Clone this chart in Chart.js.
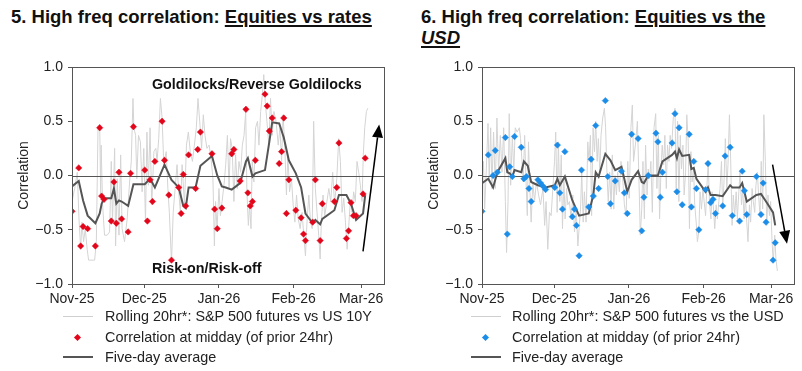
<!DOCTYPE html>
<html><head><meta charset="utf-8">
<script src="https://cdn.jsdelivr.net/npm/chart.js@4.4.1/dist/chart.umd.min.js"></script>
<style>
body{margin:0;width:802px;height:371px;background:#fff;position:relative;overflow:hidden;font-family:"Liberation Sans",Arial,sans-serif;color:#000}
.t{position:absolute;font-weight:bold;font-size:18.5px;line-height:21px;white-space:nowrap;color:#111}
.t u{text-decoration-thickness:2px;text-underline-offset:2px}
.cw{position:absolute;top:0}
.ann{position:absolute;font-weight:bold;font-size:14.3px;white-space:nowrap;color:#111}
.lg{position:absolute;top:306px;height:64px;font-size:14.4px;color:#222;white-space:nowrap}
.row{position:absolute;left:0;height:21px;width:400px}
.row .tx{position:absolute;top:0;line-height:21px}
.row .ln{position:absolute;top:10px;width:30px}
.row .dm{position:absolute;top:8px;width:5px;height:5px;transform:rotate(45deg)}
</style></head>
<body>
<div class="t" style="left:11px;top:6px">5. High freq correlation: <u>Equities vs rates</u></div>
<div class="t" style="left:421px;top:6px">6. High freq correlation: <u>Equities vs the<br><i>USD</i></u></div>

<div class="cw" style="left:0;width:401px;height:310px"><canvas id="c1" width="401" height="310"></canvas></div>
<div class="cw" style="left:410px;width:392px;height:310px"><canvas id="c2" width="392" height="310"></canvas></div>

<div class="ann" style="left:152px;top:76px">Goldilocks/Reverse Goldilocks</div>
<div class="ann" style="left:152px;top:260px">Risk-on/Risk-off</div>

<div class="lg" style="left:0;width:401px">
  <div class="row" style="top:0"><span class="ln" style="left:63px;height:1px;background:#cfcfcf"></span><span class="tx" style="left:105px">Rolling 20hr*: S&amp;P 500 futures vs US 10Y</span></div>
  <div class="row" style="top:21px"><span class="dm" style="left:75px;background:#e3061b"></span><span class="tx" style="left:105px">Correlation at midday (of prior 24hr)</span></div>
  <div class="row" style="top:41px"><span class="ln" style="left:63px;height:2px;top:9px;background:#555"></span><span class="tx" style="left:105px">Five-day average</span></div>
</div>
<div class="lg" style="left:410px;width:392px">
  <div class="row" style="top:0"><span class="ln" style="left:61px;height:1px;background:#cfcfcf"></span><span class="tx" style="left:102px">Rolling 20hr*: S&amp;P 500 futures vs the USD</span></div>
  <div class="row" style="top:21px"><span class="dm" style="left:73px;background:#1b8de8"></span><span class="tx" style="left:102px">Correlation at midday (of prior 24hr)</span></div>
  <div class="row" style="top:41px"><span class="ln" style="left:61px;height:2px;top:9px;background:#555"></span><span class="tx" style="left:102px">Five-day average</span></div>
</div>

<script>
// x values are days since 1 Nov 2025
const tickDays = [0, 30, 61, 92, 120];
const tickLabels = ['Nov-25', 'Dec-25', 'Jan-26', 'Feb-26', 'Mar-26'];

// ---- Chart 5: Equities vs rates ----
const rollDaysL = [0.0,1.1,2.2,2.9,3.6,4.1,4.8,5.5,6.3,6.9,9.4,10.1,10.8,11.5,11.9,12.1,12.7,13.5,14.6,15.6,16.3,16.8,17.7,18.1,18.8,19.5,20.2,20.8,21.8,22.9,23.9,24.6,25.3,25.7,26.4,26.9,27.6,28.4,29.1,29.8,30.5,31.1,31.7,32.4,33.1,34.0,34.8,35.3,36.0,36.7,37.4,38.1,39.1,39.8,40.4,41.3,42.0,42.8,43.6,44.3,45.0,45.7,46.7,47.5,48.3,49.1,50.0,50.8,51.6,52.3,53.0,53.8,54.5,55.2,56.0,56.9,57.7,58.5,59.1,59.6,60.2,61.0,61.6,62.3,63.2,
  63.8,64.5,65.2,65.8,66.5,67.2,67.9,68.6,69.3,70.0,70.7,71.4,72.1,72.6,73.2,73.7,74.3,74.8,75.5,76.2,77.0,77.6,78.3,79.0,79.6,80.2,80.9,81.7,82.4,83.1,83.8,84.7,85.6,86.3,87.0,87.6,88.3,89.0,89.6,90.3,91.1,91.8,92.5,93.2,93.9,94.7,95.5,96.2,96.9,97.6,98.3,99.0,99.7,100.3,101.0,101.7,102.4,103.0,103.5,104.2,104.9,105.6,106.6,107.4,108.2,109.0,109.9,110.7,111.4,112.1,112.8,113.5,114.2,114.8,115.5,116.2,116.9,117.6,118.3,119.0,119.7,120.4,120.9,121.5,122.2,122.8];
const rollValsL = [-0.24,-0.12,0.03,-0.40,-0.68,-0.43,-0.61,-0.49,-0.68,-0.78,-0.78,-0.61,0.44,0.47,-0.18,0.28,-0.27,-0.55,-0.55,-0.52,0.13,-0.43,0.25,-0.65,-0.03,-0.55,0.19,-0.49,-0.61,-0.40,-0.06,0.13,0.71,0.44,0.37,-0.03,0.37,0.31,-0.15,0.25,-0.43,0.40,-0.09,0.44,-0.27,0.22,0.25,0.13,0.34,0.71,0.53,0.10,0.22,-0.12,-0.34,-0.80,-0.34,-0.12,0.10,-0.15,-0.34,0.10,-0.27,0.28,0.40,0.22,0.13,0.28,0.44,0.71,0.50,0.25,0.56,0.37,0.25,0.28,0.16,-0.03,-0.65,-0.24,-0.49,-0.12,-0.37,-0.24,-0.06,
  0.10,0.37,-0.12,0.34,0.25,-0.24,0.19,-0.12,0.13,0.03,0.28,0.37,0.59,-0.15,-0.46,-0.27,-0.49,0.13,-0.06,0.44,0.50,0.28,0.59,0.74,0.93,0.68,0.50,0.28,0.71,0.37,0.59,0.50,0.28,0.44,0.13,0.56,0.28,-0.18,0.19,-0.15,-0.03,-0.27,-0.43,-0.18,-0.40,-0.49,-0.34,-0.55,-0.74,-0.40,-0.18,-0.43,-0.49,0.50,-0.12,-0.34,-0.55,-0.77,-0.43,-0.18,-0.37,-0.27,-0.12,-0.24,0.03,-0.27,-0.03,0.34,0.13,-0.34,-0.21,-0.43,-0.68,-0.49,-0.24,-0.34,-0.15,-0.24,0.13,0.03,-0.09,-0.24,0.19,0.44,0.59,0.62];
const middayDaysL = [0.0,2.8,3.6,4.6,6.5,9.7,11.5,12.3,13.3,16.3,17.4,18.4,19.5,20.6,23.3,24.3,25.5,30.2,31.3,32.4,33.4,34.4,37.4,38.4,40.2,41.3,44.3,45.3,46.2,47.2,48.4,51.3,52.2,53.3,58.1,59.2,60.3,62.2,
  66.3,67.2,69.8,72.2,73.0,74.0,74.9,76.1,80.1,81.0,81.9,83.1,86.0,87.0,87.9,89.0,90.0,92.9,95.1,96.1,96.9,99.9,101.0,103.0,103.9,108.9,109.9,110.8,113.9,114.8,115.8,116.8,117.9,120.8,121.7];
const middayValsL = [-0.33,0.07,-0.65,-0.47,-0.49,-0.65,0.44,-0.19,-0.22,-0.42,-0.06,-0.44,0.03,-0.40,-0.52,0.02,0.45,0.05,-0.42,-0.04,-0.24,0.13,0.50,0.14,-0.18,-0.78,-0.11,-0.35,0.01,-0.28,0.19,-0.12,0.24,0.40,0.20,-0.31,-0.49,-0.30,
  0.20,0.24,-0.05,0.61,-0.16,-0.28,-0.24,0.14,0.75,0.64,0.41,0.53,0.11,0.22,0.53,-0.35,-0.04,-0.32,-0.39,-0.54,-0.60,-0.43,-0.04,-0.60,-0.26,-0.24,-0.11,0.30,-0.58,-0.51,-0.25,-0.37,-0.37,-0.17,0.16];
const avgDaysL = [0,2.8,4.6,6.5,9.7,11.5,12.3,13.3,16.3,17.4,18.4,19.5,20.6,23.3,25.5,30.2,32.4,34.4,38.4,41.3,44.3,46.2,47.2,48.4,51.3,53.3,58.1,60.3,62.2,63.8,66.3,69.8,72.2,73.0,74.9,76.1,80.1,81.9,83.1,86.0,87.9,90.0,92.9,95.1,96.9,99.9,101.0,103.0,103.9,108.9,110.8,113.9,115.8,117.9,120.8,121.7];
const avgValsL = [-0.10,-0.05,-0.23,-0.37,-0.44,-0.35,-0.26,-0.21,-0.21,-0.12,-0.26,-0.23,-0.24,-0.28,-0.08,-0.08,-0.03,-0.11,0.10,-0.04,-0.11,-0.28,-0.30,-0.11,-0.11,0.09,0.18,0.00,-0.10,-0.11,-0.13,-0.07,0.13,0.16,-0.01,0.02,0.05,0.31,0.49,0.48,0.35,0.14,0.02,-0.11,-0.35,-0.44,-0.41,-0.45,-0.40,-0.32,-0.18,-0.18,-0.26,-0.41,-0.35,-0.18];

// ---- Chart 6: Equities vs the USD ----
const rollDaysR = [0.0,0.6,1.1,1.8,2.5,3.0,3.6,4.1,4.8,5.5,6.2,6.9,7.6,8.3,9.0,9.7,10.2,10.8,11.3,11.9,12.6,13.2,13.8,14.6,15.5,16.0,16.6,17.1,17.7,18.2,18.8,19.3,19.9,20.4,21.1,21.8,22.6,23.5,24.3,25.3,26.0,26.6,27.3,28.0,28.7,29.4,30.1,30.6,31.2,31.7,32.3,32.9,33.4,34.0,34.5,35.1,35.6,36.3,37.0,37.7,38.4,39.1,39.8,40.3,40.9,41.4,42.0,42.5,43.2,43.9,44.4,45.0,45.5,46.1,46.7,47.2,47.8,48.3,48.9,49.4,50.1,50.8,51.3,51.9,52.4,53.0,53.6,54.1,54.7,55.2,55.8,56.3,57.0,57.7,58.4,59.1,59.8,60.5,61.1,61.8,62.4,62.9,
  63.8,64.5,65.2,65.7,66.3,66.8,67.4,67.9,68.5,69.0,69.6,70.1,70.7,71.4,72.1,72.6,73.2,73.7,74.3,74.8,75.4,75.9,76.5,77.0,77.6,78.1,78.7,79.4,80.1,80.6,81.2,81.7,82.3,82.8,83.4,83.9,84.5,85.0,85.6,86.1,86.7,87.2,87.8,88.3,88.9,89.4,90.0,90.5,91.1,91.7,92.2,92.8,93.3,93.9,94.4,95.0,95.5,96.1,96.6,97.2,97.7,98.3,98.8,99.4,99.9,100.5,101.0,101.6,102.1,102.7,103.2,103.8,104.3,104.9,105.5,106.0,106.6,107.1,107.7,108.2,108.8,109.3,109.9,110.4,111.0,111.5,112.1,112.6,113.2,113.7,114.3,114.8,115.4,115.9,116.5,117.0,117.6,118.2,118.7,119.3,119.8,120.4,120.9,121.5,122.0,122.6];
const rollValsR = [-0.06,0.13,-0.31,0.06,0.48,-0.03,0.44,-0.12,0.40,-0.12,0.53,0.03,0.37,0.03,0.44,-0.24,-0.71,-0.24,0.57,-0.09,0.37,0.03,0.44,0.40,0.44,0.34,0.13,-0.06,0.37,0.00,-0.37,0.31,-0.15,-0.43,-0.06,-0.24,-0.06,-0.18,-0.27,-0.12,-0.46,-0.24,-0.68,-0.34,-0.37,-0.12,0.13,0.40,-0.34,0.31,-0.24,0.19,-0.49,-0.03,-0.40,-0.12,-0.27,-0.24,-0.40,-0.18,-0.52,-0.31,-0.65,-0.49,-0.31,0.03,-0.43,-0.15,-0.43,0.31,0.13,0.37,-0.37,0.44,0.22,0.50,0.13,0.34,0.03,0.37,0.53,0.62,0.44,0.00,-0.24,0.03,-0.31,0.19,-0.31,0.00,-0.18,0.03,-0.15,0.13,-0.03,-0.27,-0.37,0.13,-0.21,0.44,0.65,0.13,
  0.31,0.50,-0.09,-0.55,-0.31,0.13,-0.40,0.28,-0.18,0.06,-0.03,0.13,-0.34,0.44,0.57,-0.12,0.37,-0.40,0.06,0.28,0.10,0.37,-0.12,0.28,0.13,0.37,0.25,0.53,0.62,-0.12,0.50,-0.24,0.37,0.06,0.28,-0.18,0.03,0.56,0.31,-0.49,0.22,-0.06,0.06,-0.27,-0.43,-0.61,-0.52,-0.15,-0.31,-0.12,-0.24,-0.37,-0.12,0.13,-0.24,-0.40,-0.15,-0.31,-0.49,-0.27,-0.40,-0.24,-0.12,0.13,-0.31,-0.03,0.34,-0.12,0.10,0.56,0.16,-0.46,-0.18,-0.37,-0.15,-0.40,-0.15,0.03,-0.27,-0.12,-0.40,-0.18,-0.43,-0.61,-0.27,-0.43,-0.12,-0.24,-0.34,-0.09,0.03,-0.18,-0.37,0.13,-0.31,0.56,0.13,-0.46,-0.18,-0.37,-0.24,-0.61,-0.80,-0.55,-0.77,-0.88];
const middayDaysR = [0.0,2.6,4.6,5.5,6.4,9.7,10.5,11.5,12.6,13.5,16.3,17.4,18.4,19.5,20.4,23.2,24.3,25.4,26.4,30.2,31.3,32.3,33.4,34.4,37.5,38.4,39.2,40.3,41.3,44.3,45.3,46.2,47.2,48.4,51.2,52.2,53.3,55.3,57.9,59.1,60.3,62.1,64.8,66.3,67.2,69.0,72.2,73.0,74.0,74.9,78.9,80.1,80.9,81.8,83.1,86.0,86.9,87.9,89.0,90.0,92.8,93.8,94.9,95.9,96.9,99.9,100.9,103.0,103.9,106.9,108.0,108.9,109.9,113.9,115.8,116.7,117.9,120.8,121.7];
const middayValsR = [-0.33,0.19,0.00,0.23,0.03,0.35,-0.54,0.08,-0.01,0.36,0.26,-0.03,-0.01,-0.12,-0.24,-0.04,-0.07,-0.10,-0.13,-0.11,0.28,-0.16,-0.31,0.22,-0.38,-0.31,-0.46,-0.74,0.05,-0.29,0.15,-0.19,0.46,-0.12,0.69,-0.01,-0.26,-0.05,0.04,-0.16,-0.35,0.38,0.34,-0.51,-0.20,0.00,0.39,0.31,-0.20,0.03,0.30,0.57,-0.15,0.44,-0.27,0.38,-0.29,0.13,-0.12,-0.50,-0.13,0.11,-0.25,-0.22,-0.35,-0.28,0.18,0.26,-0.37,-0.42,0.04,-0.14,-0.36,-0.01,-0.36,-0.07,-0.43,-0.78,-0.62];
const avgDaysR = [0,2.6,4.6,6.4,9.7,10.5,11.5,12.6,13.5,16.3,17.4,19.0,20.4,23.2,26.4,30.2,31.3,32.3,34.4,37.5,40.3,44.3,46.2,47.2,48.4,51.2,53.3,55.3,57.9,60.3,62.1,64.8,66.3,67.2,69.0,73.0,74.9,78.9,80.1,80.9,81.8,83.1,86.0,86.9,87.9,89.0,92.8,93.8,94.9,96.9,99.9,103.0,103.9,106.9,108.0,108.9,109.9,113.9,115.8,117.9,120.8,121.7];
const avgValsR = [-0.07,-0.03,-0.11,0.03,0.16,0.03,0.02,-0.01,0.05,0.03,0.13,0.09,-0.06,-0.09,-0.11,-0.09,-0.03,-0.09,-0.01,-0.23,-0.37,-0.35,-0.18,0.03,-0.01,0.20,0.14,0.05,0.08,-0.15,-0.04,0.04,-0.06,-0.07,0.00,0.00,0.13,0.19,0.22,0.16,0.24,0.18,0.19,0.06,0.07,-0.03,-0.15,-0.11,-0.18,-0.18,-0.19,-0.09,-0.11,-0.11,-0.07,-0.15,-0.24,-0.18,-0.17,-0.24,-0.34,-0.46];

// arrow annotations, [day, correlation]
const arrowL = {from:[120.8,-0.70], to:[127.5,0.47]};
const arrowR = {from:[120.6,0.10], to:[126.6,-0.63]};

const pts = (xs, ys) => xs.map((x, i) => ({x: x, y: ys[i]}));
const FONT = '"Liberation Sans", Arial, sans-serif';

const deco = {
  id: 'deco',
  afterDatasetDraw(chart, args) {
    if (args.index !== 0) return;
    const {ctx, chartArea: a, scales: {y}} = chart;
    const yy = Math.round(y.getPixelForValue(0)) + 0.5;
    ctx.save();
    ctx.strokeStyle = '#555'; ctx.lineWidth = 1.2;
    ctx.beginPath(); ctx.moveTo(a.left, yy); ctx.lineTo(a.right, yy); ctx.stroke();
    ctx.restore();
  },
  afterDraw(chart, args, opts) {
    const {ctx, chartArea: a, scales: {x, y}} = chart;
    ctx.save();
    ctx.strokeStyle = '#555'; ctx.lineWidth = 1;
    ctx.strokeRect(Math.round(a.left) + 0.5, Math.round(a.top) + 0.5, Math.round(a.right - a.left), Math.round(a.bottom - a.top));
    const ar = opts.arrow;
    const x0 = x.getPixelForValue(ar.from[0]), y0 = y.getPixelForValue(ar.from[1]);
    const x1 = x.getPixelForValue(ar.to[0]), y1 = y.getPixelForValue(ar.to[1]);
    const ang = Math.atan2(y1 - y0, x1 - x0), L = 13, W = 5.5;
    const bx = x1 - L * Math.cos(ang), by = y1 - L * Math.sin(ang);
    ctx.strokeStyle = '#000'; ctx.fillStyle = '#000'; ctx.lineWidth = 1.5;
    ctx.beginPath(); ctx.moveTo(x0, y0); ctx.lineTo(bx, by); ctx.stroke();
    ctx.beginPath(); ctx.moveTo(x1, y1);
    ctx.lineTo(bx + W * Math.sin(ang), by - W * Math.cos(ang));
    ctx.lineTo(bx - W * Math.sin(ang), by + W * Math.cos(ang));
    ctx.closePath(); ctx.fill();
    ctx.restore();
  }
};

function makeChart(id, rightPad, rx, ry, mx, my, ax, ay, color, arrow) {
  new Chart(document.getElementById(id), {
    type: 'line',
    data: {
      datasets: [
        {data: pts(rx, ry), borderColor: '#d4d4d4', borderWidth: 1, pointRadius: 0, tension: 0, order: 3},
        {data: pts(ax, ay), borderColor: '#555555', borderWidth: 2, pointRadius: 0, tension: 0, order: 2},
        {data: pts(mx, my), showLine: false, pointStyle: 'rectRot', pointRadius: 3.2, pointBackgroundColor: color, pointBorderColor: color, pointBorderWidth: 0.5, order: 1}
      ]
    },
    options: {
      responsive: false, animation: false, devicePixelRatio: 1,
      layout: {padding: {top: 67, right: rightPad, left: 0, bottom: 0}},
      plugins: {legend: {display: false}, tooltip: {enabled: false}, deco: {arrow: arrow}},
      scales: {
        x: {
          type: 'linear', min: 0, max: 129.5,
          afterBuildTicks: s => { s.ticks = tickDays.map(v => ({value: v})); },
          afterFit: s => { s.height = 26; },
          grid: {drawOnChartArea: false, drawTicks: true, tickLength: 4, color: '#555'},
          border: {color: '#555', width: 1},
          ticks: {callback: (v, i) => tickLabels[i], autoSkip: false, maxRotation: 0, padding: 3, color: '#222', font: {family: FONT, size: 14}}
        },
        y: {
          min: -1, max: 1,
          afterFit: s => { s.width = 72; },
          grid: {drawOnChartArea: false, drawTicks: true, tickLength: 4, color: '#555'},
          border: {color: '#555', width: 1},
          ticks: {stepSize: 0.5, padding: 5, color: '#222', font: {family: FONT, size: 14},
            callback: v => (v < 0 ? '\u2212' + Math.abs(v).toFixed(1) : v.toFixed(1))},
          title: {display: true, text: 'Correlation', color: '#222', font: {family: FONT, size: 14}, padding: {top: 16, bottom: 0}}
        }
      }
    },
    plugins: [deco]
  });
}

makeChart('c1', 17, rollDaysL, rollValsL, middayDaysL, middayValsL, avgDaysL, avgValsL, '#e3061b', arrowL);
makeChart('c2', 8, rollDaysR, rollValsR, middayDaysR, middayValsR, avgDaysR, avgValsR, '#1b8de8', arrowR);
</script>
</body></html>
